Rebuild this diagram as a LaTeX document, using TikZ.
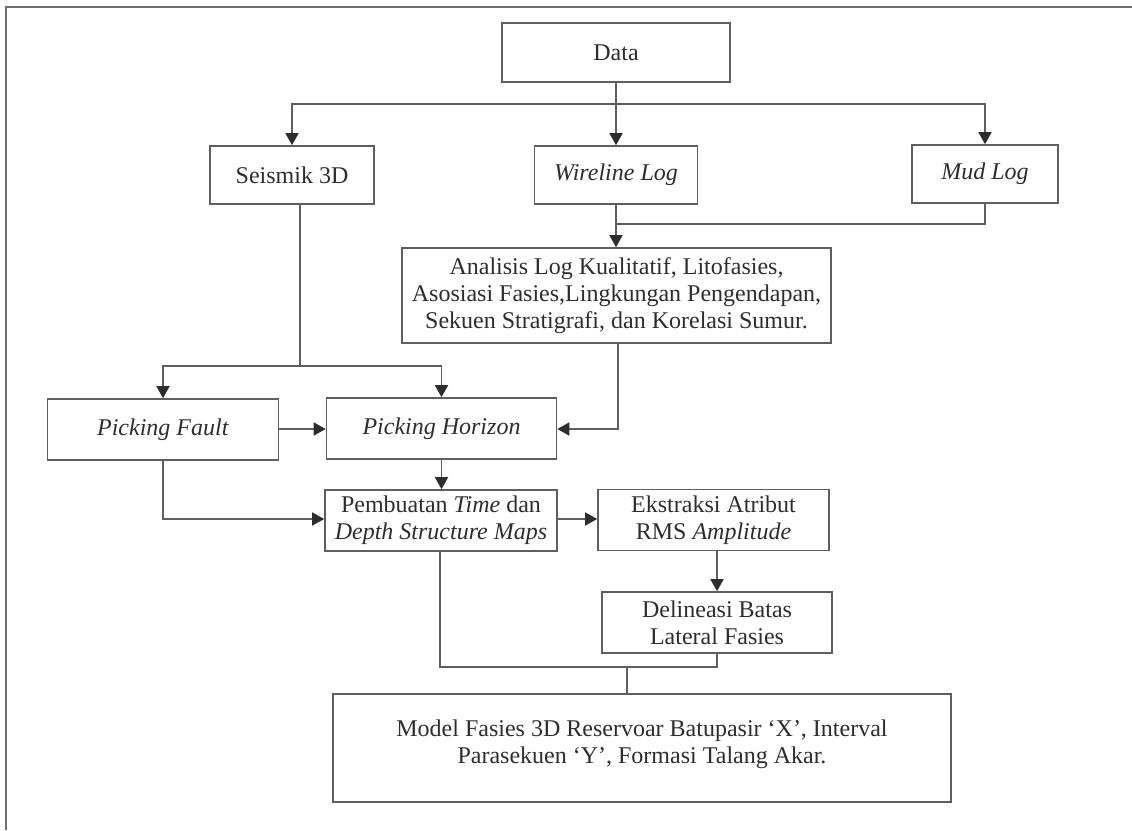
\documentclass[tikz,border=0pt]{standalone}
\usepackage{fontspec}
\setmainfont{Liberation Serif}
\usetikzlibrary{arrows.meta}
\definecolor{lin}{RGB}{95,95,95}
\definecolor{tip}{RGB}{45,45,45}
\definecolor{txt}{RGB}{45,45,45}
\begin{document}
\begin{tikzpicture}[x=1pt,y=-1pt,
  box/.style={draw=lin, line width=1.6pt, inner sep=0pt, align=center, text=txt,
    font=\fontsize{24}{27}\selectfont},
  conn/.style={draw=lin, line width=1.6pt},
  arr/.style={conn, -{Triangle[length=12pt,width=13pt,fill=tip,color=tip]}}]
\useasboundingbox (0,0) rectangle (1132,830);
\draw[draw=lin!90, line width=1.8pt] (1132,7) -- (6,7) -- (6,830);

\node[box, minimum width=228pt, minimum height=59pt] (data) at (616,52.5) {Data};
\node[box, minimum width=164pt, minimum height=58pt] (seis) at (292,175) {Seismik 3D};
\node[box, minimum width=163pt, minimum height=58pt] (wire) at (616,175) {\textit{Wireline Log}};
\node[box, minimum width=146pt, minimum height=58pt] (mud) at (985,174) {\textit{Mud Log}};
\node[box, minimum width=429pt, minimum height=95pt] (anal) at (616.5,295.5)
  {Analisis Log Kualitatif, Litofasies,\\Asosiasi Fasies,Lingkungan Pengendapan,\\Sekuen Stratigrafi, dan Korelasi Sumur.};
\node[box, minimum width=231pt, minimum height=61pt] (pf) at (163,429.5) {\textit{Picking Fault}};
\node[box, minimum width=230pt, minimum height=61pt] (ph) at (441.5,428.5) {\textit{Picking Horizon}};
\node[box, minimum width=232pt, minimum height=61pt] (pemb) at (441,520.5)
  {Pembuatan \textit{Time} dan\\\textit{Depth Structure Maps}};
\node[box, minimum width=231pt, minimum height=61pt] (ekst) at (713.5,520)
  {Ekstraksi Atribut\\RMS \textit{Amplitude}};
\node[box, minimum width=230pt, minimum height=61pt] (deli) at (717,622.5)
  {Delineasi Batas\\Lateral Fasies};
\node[box, minimum width=618pt, minimum height=108pt, text depth=12pt] (model) at (642,748)
  {Model Fasies 3D Reservoar Batupasir ‘X’, Interval\\Parasekuen ‘Y’, Formasi Talang Akar.};

% Data distribution
\coordinate (b1) at (616,104);
\draw[arr] (data.south) -- (data.south |- wire.north);
\draw[arr] (b1) -| (seis.north);
\draw[arr] (b1) -| (mud.north);

% Logs to analysis
\coordinate (b2) at (616,224);
\draw[conn] (wire.south -| b2) -- (b2);
\draw[conn] (mud.south) |- (b2);
\draw[arr] (b2) -- (b2 |- anal.north);

% Seismic to picking
\coordinate (b3) at (300,366);
\draw[conn] (seis.south -| b3) -- (b3);
\draw[arr] (b3) -| (pf.north);
\draw[arr] (b3) -| (ph.north);

% Analysis to horizon
\coordinate (b4) at (618,429);
\draw[arr] (anal.south -| b4) |- (ph.east |- b4);

\draw[arr] (pf.east |- b4) -- (ph.west |- b4);
\draw[arr] (ph.south) -- (ph.south |- pemb.north);

\coordinate (b5) at (163,519);
\draw[arr] (pf.south) |- (pemb.west |- b5);
\draw[arr] (pemb.east |- b5) -- (ekst.west |- b5);
\draw[arr] (ekst.south -| deli.north) -- (deli.north);

% to model
\coordinate (b6) at (627,667);
\draw[conn] (pemb.south -| 440,0) |- (deli.south |- b6) -- (deli.south);
\draw[conn] (b6) -- (b6 |- model.north);
\end{tikzpicture}
\end{document}
